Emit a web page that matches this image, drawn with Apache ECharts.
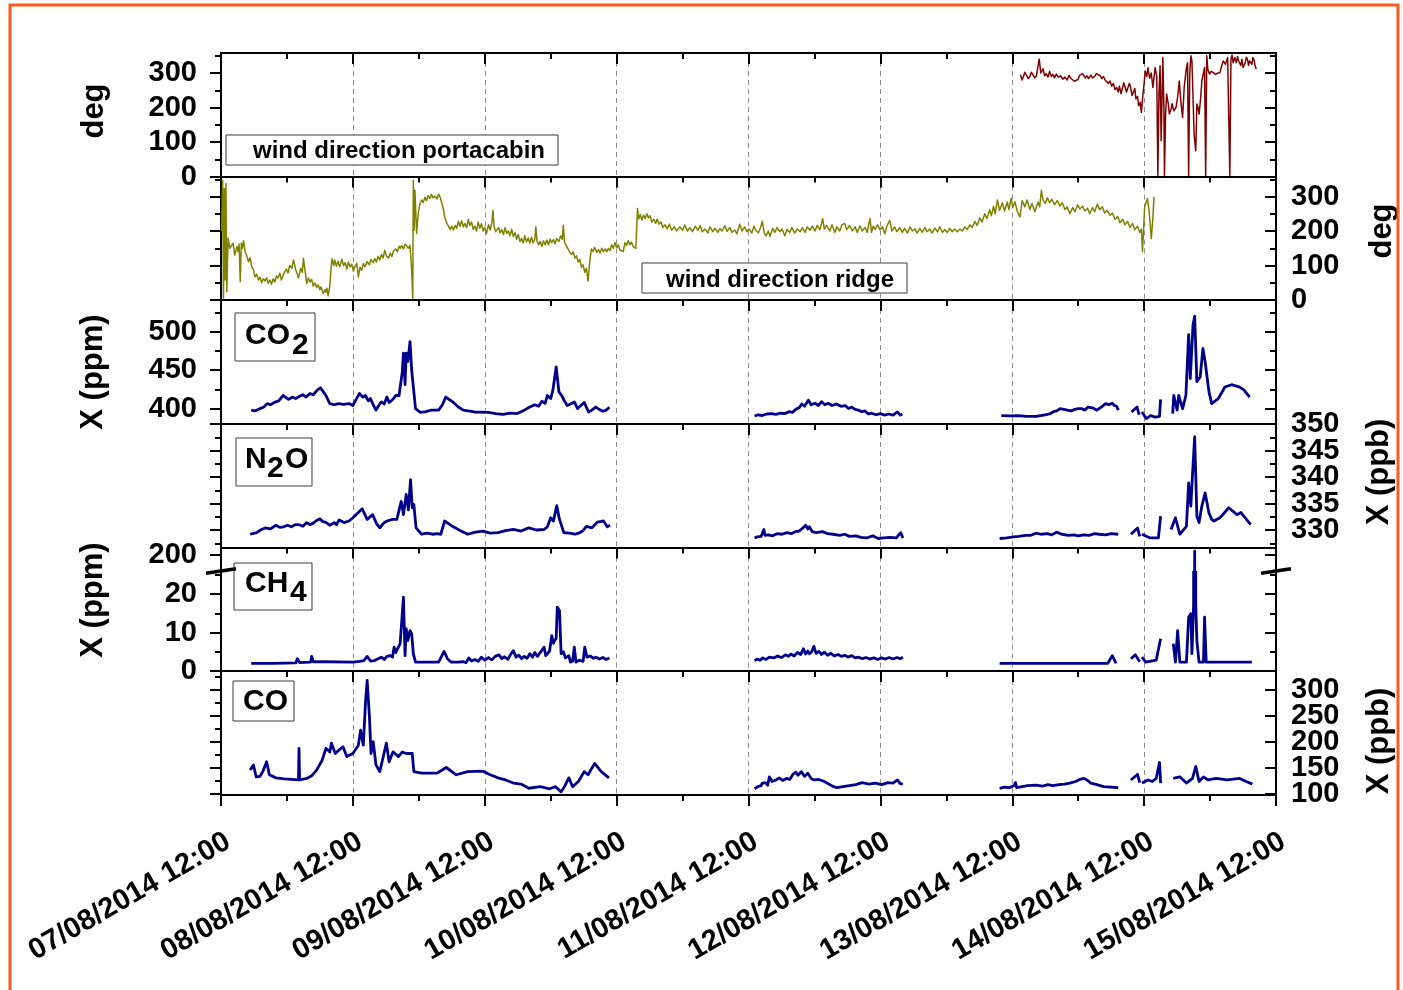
<!DOCTYPE html>
<html>
<head>
<meta charset="utf-8">
<title>Wind direction and trace gases, 07-15/08/2014</title>
<script src="https://cdn.jsdelivr.net/npm/echarts@6/dist/echarts.min.js"></script>
<style>
  html, body { margin: 0; padding: 0; background: #ffffff; }
  #chart { width: 1403px; height: 990px; }
</style>
</head>
<body>
<div id="chart"></div>
<script>
// ---------------------------------------------------------------------------
// Data. Time is given in hours after 07/08/2014 12:00; null marks a data gap.
// ---------------------------------------------------------------------------
const dayTickLabels = ['07/08/2014 12:00', '08/08/2014 12:00', '09/08/2014 12:00',
  '10/08/2014 12:00', '11/08/2014 12:00', '12/08/2014 12:00', '13/08/2014 12:00',
  '14/08/2014 12:00', '15/08/2014 12:00'];

// wind direction at the portacabin (deg)
const windPortacabin = [
  [145.5, 295], [145.8, 280], [146.0, 285], [146.3, 302], [146.6, 300], [146.9, 284],
  [147.2, 290], [147.5, 302], [147.8, 298], [148.1, 286], [148.4, 292], [148.9, 340],
  [149.2, 300], [149.6, 312], [149.9, 292], [150.2, 298], [150.5, 288], [150.8, 305],
  [151.1, 290], [151.4, 296], [151.7, 286], [152.0, 297], [152.4, 288], [152.8, 292],
  [153.2, 282], [153.6, 288], [154.0, 280], [154.3, 293], [154.7, 284], [155.0, 285],
  [155.3, 276], [155.6, 280], [156.0, 282], [156.3, 294], [156.5, 290], [156.8, 298],
  [157.0, 295], [157.3, 286], [157.6, 292], [157.9, 284], [158.3, 294], [158.6, 286],
  [159.0, 290], [159.3, 298], [159.6, 294], [160.0, 292], [160.3, 284], [160.6, 290],
  [160.9, 280], [161.2, 282], [161.5, 270], [161.8, 277], [162.1, 262], [162.4, 270],
  [162.7, 252], [163.0, 258], [163.3, 245], [163.5, 262], [163.8, 240], [164.0, 253],
  [164.3, 272], [164.5, 268], [164.8, 245], [165.0, 250], [165.3, 270], [165.5, 262],
  [165.8, 235], [166.0, 240], [166.3, 255], [166.5, 225], [166.8, 232], [167.0, 205],
  [167.3, 215], [167.5, 186], [167.8, 240], [168.0, 269], [168.2, 306], [168.5, 290],
  [168.7, 315], [169.0, 285], [169.3, 300], [169.6, 258], [170.0, 316], [170.3, 290],
  [170.5, 3], [170.7, 240], [170.9, 321], [171.1, 104], [171.4, 345], [171.6, 200],
  [171.7, 3], [171.9, 180], [172.1, 239], [172.4, 210], [172.6, 181], [172.9, 195],
  [173.1, 211], [173.4, 190], [173.8, 200], [174.1, 230], [174.4, 277], [174.7, 215],
  [175.0, 171], [175.3, 260], [175.7, 316], [175.9, 330], [176.1, 3], [176.3, 300],
  [176.5, 350], [176.7, 335], [176.9, 229], [177.1, 120], [177.4, 75], [177.6, 210],
  [177.8, 200], [178.0, 181], [178.3, 230], [178.5, 277], [178.8, 300], [179.0, 316],
  [179.2, 3], [179.4, 350], [179.6, 310], [179.9, 297], [180.2, 305], [180.6, 301],
  [181.0, 296], [181.4, 300], [181.8, 301], [182.1, 320], [182.4, 335], [182.8, 325],
  [183.2, 345], [183.5, 341], [183.6, 3], [183.8, 340], [184.0, 352], [184.2, 330],
  [184.5, 345], [184.8, 330], [185.0, 348], [185.2, 335], [185.6, 322], [185.8, 340],
  [186.0, 316], [186.4, 330], [186.6, 346], [186.8, 340], [187.0, 322], [187.2, 335],
  [187.6, 325], [187.8, 345], [188.0, 338], [188.2, 320], [188.4, 311]
];

// wind direction on the ridge (deg)
const windRidge = [
  [0.1, 200], [0.3, 347], [0.45, 5], [0.6, 323], [0.75, 58], [0.9, 338], [1.05, 24],
  [1.3, 180], [1.6, 150], [1.9, 145], [2.2, 165], [2.5, 130], [2.9, 155], [3.1, 140],
  [3.3, 162], [3.5, 53], [3.7, 165], [3.9, 150], [4.1, 172], [4.4, 140], [4.7, 128],
  [5.0, 111], [5.3, 122], [5.6, 96], [5.9, 88], [6.2, 67], [6.5, 75], [6.8, 58], [7.1, 66],
  [7.4, 50], [7.7, 62], [8.0, 55], [8.3, 64], [8.6, 48], [8.9, 58], [9.2, 46], [9.5, 62],
  [9.8, 52], [10.1, 70], [10.4, 64], [10.7, 78], [11.0, 58], [11.3, 72], [11.6, 77],
  [11.9, 90], [12.2, 78], [12.5, 100], [12.9, 92], [13.2, 116], [13.6, 88], [13.9, 74],
  [14.1, 64], [14.5, 92], [14.8, 80], [15.0, 121], [15.3, 85], [15.6, 48], [15.9, 64],
  [16.2, 52], [16.5, 60], [16.8, 40], [17.1, 50], [17.4, 36], [17.7, 44], [18.0, 30],
  [18.2, 38], [18.6, 19], [18.9, 30], [19.1, 22], [19.3, 34], [19.5, 12], [19.8, 40],
  [20.0, 87], [20.2, 120], [20.5, 100], [20.7, 116], [21.0, 98], [21.3, 112], [21.6, 96],
  [22.0, 118], [22.3, 100], [22.6, 108], [22.9, 90], [23.2, 110], [23.5, 96], [23.8, 104],
  [24.1, 84], [24.4, 98], [24.7, 106], [25.0, 67], [25.3, 95], [25.6, 86], [25.9, 106],
  [26.2, 96], [26.6, 112], [27.0, 102], [27.3, 118], [27.7, 108], [28.0, 120], [28.3, 110],
  [28.6, 126], [28.9, 116], [29.2, 132], [29.5, 122], [29.8, 144], [30.1, 128], [30.5, 122],
  [30.8, 136], [31.1, 126], [31.4, 142], [31.8, 148], [32.1, 140], [32.4, 156], [32.6, 150],
  [32.9, 158], [33.2, 148], [33.5, 162], [33.8, 166], [34.1, 150], [34.4, 158], [34.7, 87],
  [34.9, 5], [35.0, 347], [35.15, 202], [35.3, 318], [35.6, 193], [35.9, 251], [36.2, 279],
  [36.5, 290], [36.8, 282], [37.1, 298], [37.4, 288], [37.7, 303], [38.0, 294], [38.3, 306],
  [38.6, 296], [39.0, 301], [39.3, 293], [39.6, 307], [39.9, 297], [40.2, 302], [40.5, 262],
  [40.7, 240], [40.9, 232], [41.1, 222], [41.4, 214], [41.7, 204], [42.0, 214], [42.3, 203],
  [42.6, 216], [42.9, 208], [43.2, 228], [43.5, 214], [43.8, 230], [44.1, 212], [44.4, 222],
  [44.7, 210], [45.0, 234], [45.3, 216], [45.6, 226], [45.9, 205], [46.2, 214], [46.5, 200],
  [46.8, 226], [47.1, 208], [47.4, 221], [47.7, 200], [48.0, 210], [48.3, 192], [48.7, 218],
  [49.0, 203], [49.3, 225], [49.5, 260], [49.7, 212], [50.0, 198], [50.5, 210], [50.8, 195],
  [51.1, 204], [51.4, 190], [51.7, 210], [52.0, 193], [52.3, 200], [52.6, 186], [52.9, 205],
  [53.2, 184], [53.5, 195], [53.8, 176], [54.1, 190], [54.4, 170], [54.7, 178], [55.0, 166],
  [55.3, 186], [55.6, 168], [55.9, 180], [56.2, 165], [56.5, 182], [56.8, 166], [57.1, 176],
  [57.3, 212], [57.5, 172], [57.8, 160], [58.1, 170], [58.4, 155], [58.7, 172], [59.0, 160],
  [59.3, 174], [59.6, 160], [59.9, 176], [60.2, 166], [60.5, 175], [60.8, 163], [61.1, 178],
  [61.5, 170], [61.8, 186], [62.1, 176], [62.3, 217], [62.5, 168], [62.8, 158], [63.1, 150],
  [63.4, 140], [63.8, 132], [64.1, 140], [64.4, 122], [64.7, 128], [65.0, 110], [65.3, 118],
  [65.6, 95], [65.9, 102], [66.2, 80], [66.5, 92], [66.8, 55], [67.1, 110], [67.4, 148],
  [67.7, 140], [68.0, 152], [68.4, 138], [68.7, 146], [69.0, 136], [69.3, 150], [69.6, 140],
  [69.9, 148], [70.2, 140], [70.5, 150], [70.8, 143], [71.1, 160], [71.4, 150], [71.7, 166],
  [72.0, 152], [72.3, 160], [72.6, 145], [72.9, 150], [73.2, 140], [73.5, 166], [73.8, 158],
  [74.1, 172], [74.4, 160], [74.7, 168], [75.0, 155], [75.3, 160], [75.5, 150], [75.8, 265],
  [76.0, 235], [76.3, 248], [76.6, 232], [76.9, 246], [77.2, 236], [77.5, 250], [77.8, 238],
  [78.1, 244], [78.4, 226], [78.8, 234], [79.1, 222], [79.4, 235], [79.7, 220], [80.1, 226],
  [80.4, 210], [80.8, 218], [81.2, 206], [81.6, 220], [82.0, 202], [82.5, 212], [82.9, 200],
  [83.5, 212], [84.0, 202], [84.4, 217], [84.9, 200], [85.3, 210], [85.8, 198], [86.3, 214],
  [86.8, 202], [87.2, 216], [87.6, 198], [88.1, 206], [88.6, 194], [89.0, 212], [89.5, 198],
  [89.9, 208], [90.4, 196], [90.8, 207], [91.2, 200], [91.7, 215], [92.1, 199], [92.6, 210],
  [93.0, 196], [93.5, 203], [93.9, 192], [94.4, 220], [94.8, 200], [95.3, 212], [95.7, 198],
  [96.1, 206], [96.6, 194], [97.0, 214], [97.4, 200], [97.8, 195], [98.2, 210], [98.5, 228],
  [98.9, 194], [99.2, 186], [99.6, 200], [99.9, 184], [100.4, 208], [100.8, 196], [101.2, 210],
  [101.7, 198], [102.1, 206], [102.6, 186], [103.0, 204], [103.5, 196], [103.9, 210],
  [104.4, 194], [104.9, 206], [105.4, 198], [105.8, 210], [106.3, 196], [106.7, 212],
  [107.2, 202], [107.6, 214], [108.1, 200], [108.5, 216], [109.0, 204], [109.5, 236],
  [109.8, 205], [110.2, 216], [110.8, 200], [111.2, 218], [111.7, 196], [112.1, 212],
  [112.6, 200], [113.0, 218], [113.5, 222], [113.9, 204], [114.4, 216], [114.9, 200],
  [115.4, 212], [115.8, 196], [116.3, 215], [116.7, 200], [117.2, 210], [117.6, 196],
  [118.1, 236], [118.4, 196], [118.7, 214], [119.0, 205], [119.5, 218], [119.9, 204],
  [120.4, 212], [120.8, 192], [121.2, 215], [121.7, 231], [122.1, 200], [122.6, 212],
  [123.0, 198], [123.5, 210], [124.0, 196], [124.4, 208], [124.9, 194], [125.4, 212],
  [125.8, 200], [126.3, 206], [126.7, 194], [127.2, 208], [127.6, 196], [128.1, 210],
  [128.5, 198], [129.0, 206], [129.4, 194], [129.9, 208], [130.4, 198], [130.8, 212],
  [131.3, 196], [131.7, 204], [132.2, 196], [132.6, 208], [133.1, 198], [133.5, 206],
  [134.0, 198], [134.5, 206], [134.9, 200], [135.4, 212], [135.8, 204], [136.3, 218],
  [136.7, 210], [137.2, 228], [137.6, 216], [138.1, 238], [138.5, 226], [139.0, 250],
  [139.4, 236], [139.9, 262], [140.2, 244], [140.6, 272], [140.9, 250], [141.3, 290],
  [141.7, 260], [142.2, 282], [142.6, 258], [143.1, 284], [143.4, 262], [143.8, 295],
  [144.1, 268], [144.5, 285], [144.9, 258], [145.4, 241], [145.8, 288], [146.3, 270],
  [146.7, 290], [147.2, 262], [147.6, 280], [148.1, 256], [148.7, 284], [149.0, 270],
  [149.3, 318], [149.6, 290], [150.0, 280], [150.4, 296], [150.8, 282], [151.2, 292],
  [151.7, 276], [152.2, 288], [152.7, 272], [153.1, 282], [153.6, 262], [154.0, 270],
  [154.5, 250], [155.0, 268], [155.4, 256], [155.9, 276], [156.3, 264], [156.8, 272],
  [157.2, 258], [157.7, 266], [158.1, 250], [158.6, 268], [159.0, 256], [159.5, 278],
  [159.9, 262], [160.4, 270], [160.8, 252], [161.3, 260], [161.8, 245], [162.2, 252],
  [162.7, 234], [163.2, 242], [163.6, 224], [164.1, 234], [164.5, 218], [165.0, 228],
  [165.4, 210], [165.9, 222], [166.3, 204], [166.8, 214], [167.2, 196], [167.5, 205],
  [167.7, 140], [168.1, 270], [168.6, 294], [168.9, 260], [169.3, 178], [169.6, 240],
  [169.8, 299]
];

// CO2 mole fraction (ppm)
const co2 = [
  [5.5, 398], [6.2, 397], [7.1, 400], [7.8, 402], [8.4, 406.5], [9.0, 405], [9.7, 408],
  [10.5, 410], [11.3, 417], [12.3, 412], [13.0, 415], [13.6, 413], [14.3, 416], [14.9, 418],
  [15.5, 415], [16.2, 419.6], [16.8, 418], [17.5, 424], [18.1, 427], [18.6, 422], [19.1, 417],
  [19.8, 406.5], [20.6, 405], [21.4, 406.5], [22.3, 405.5], [23.3, 406.5], [24.0, 404],
  [24.6, 412], [25.2, 419.6], [25.8, 415], [26.3, 417], [26.8, 410], [27.2, 413], [27.7, 405],
  [28.2, 398], [28.7, 404], [29.2, 408.6], [29.7, 406], [30.2, 415], [30.6, 408], [31.0, 410],
  [31.5, 414], [31.8, 417], [32.4, 417], [33.0, 448], [33.2, 472], [33.5, 431], [33.7, 472],
  [34.0, 461], [34.4, 487], [34.7, 450], [35.0, 448], [35.4, 400], [36.3, 395], [37.3, 396],
  [38.3, 398], [39.6, 398], [40.3, 405], [40.9, 415], [41.5, 412], [42.2, 408.6], [43.2, 402],
  [44.1, 398], [46.1, 395.6], [48.7, 395], [50.0, 393.5], [51.3, 392.6], [52.6, 394],
  [53.9, 393.5], [55.2, 398], [56.2, 402], [57.1, 405], [57.8, 403], [58.4, 409.5],
  [59.0, 407], [59.4, 417], [60.0, 413], [60.4, 424], [61.0, 454], [61.5, 421.7], [62.0, 417],
  [62.5, 410], [63.0, 404], [63.6, 406], [64.3, 408.6], [64.9, 400], [65.5, 404], [66.1, 408],
  [66.9, 395.6], [67.5, 398], [68.2, 402], [68.8, 399], [69.5, 396.5], [70.1, 398],
  [70.7, 401.7],
  [84, null],
  [97.1, 390.4], [97.8, 392], [98.5, 391], [99.3, 393], [100.2, 393.5], [101.0, 392.5],
  [101.8, 394], [102.6, 393.5], [103.4, 396], [104.0, 395], [104.6, 399], [105.2, 401],
  [105.7, 406], [106.2, 403], [106.9, 411], [107.4, 405], [108.1, 407], [108.7, 404],
  [109.3, 409], [109.9, 405], [110.5, 407], [111.2, 404], [112.0, 406], [112.8, 403],
  [113.6, 404], [114.2, 400], [114.8, 402], [115.4, 399], [116.0, 398], [116.6, 396],
  [117.2, 397], [117.8, 393], [118.4, 394], [119.2, 392], [120.0, 393.5], [120.8, 391.5],
  [121.5, 393], [122.3, 391.5], [123.1, 395.6], [123.6, 391.5], [124.0, 393],
  [133, null],
  [142.0, 391], [143.5, 390.5], [145.0, 391], [146.6, 390], [148.3, 390], [149.2, 391],
  [150.0, 392], [150.8, 393], [151.5, 396], [152.1, 397], [152.7, 400], [153.4, 399],
  [154.0, 398], [154.7, 397], [155.4, 399], [156.0, 400], [156.6, 400], [157.2, 398],
  [157.8, 402], [158.6, 401], [159.4, 398], [160.2, 402], [161.0, 406.5], [161.6, 405],
  [162.2, 407], [162.6, 404], [163.0, 403], [163.3, 398],
  [164.5, null],
  [165.7, 395.6], [166.7, 402], [167.1, 392],
  [167.35, null],
  [167.6, 395.6], [168.4, 387], [169.2, 391], [170.0, 389], [170.8, 390], [171.0, 412],
  [172.1, null],
  [173.2, 393.5], [173.4, 417], [174.0, 398], [174.3, 417], [175.0, 400], [175.6, 417],
  [176.1, 496], [176.4, 439], [176.9, 509], [177.2, 520], [177.6, 435], [178.2, 441],
  [178.7, 478], [179.1, 461], [179.8, 421.7], [180.3, 406.5], [181.5, 413], [182.7, 428],
  [183.9, 431], [185.4, 428], [186.2, 424], [187.2, 415]
];

// N2O mole fraction (ppb)
const n2o = [
  [5.3, 329.2], [6.5, 329.5], [7.2, 330.0], [8.0, 330.4], [9.0, 330.2], [10.0, 330.9],
  [10.7, 330.5], [11.4, 330.6], [12.1, 330.9], [12.8, 330.6], [13.5, 331.0], [14.2, 331.0],
  [14.9, 330.7], [15.6, 331.4], [16.2, 331.0], [16.8, 331.3], [17.4, 331.8], [18.0, 332.1],
  [18.5, 331.6], [19.0, 331.5], [19.8, 330.9], [20.6, 331.4], [21.0, 331.0], [21.5, 331.9],
  [22.4, 331.4], [23.3, 331.7], [24.3, 332.6], [25.0, 333.3], [25.7, 334.0], [26.6, 332.0],
  [27.6, 332.9], [28.3, 331.2], [28.9, 330.4], [29.6, 331.3], [30.2, 331.7], [31.2, 332.0],
  [32.0, 332.0], [32.8, 335.4], [33.2, 332.9], [33.7, 336.7], [34.1, 333.8], [34.5, 339.5],
  [34.8, 334.2], [35.1, 334.8], [35.5, 330.4], [36.5, 329.2], [37.5, 329.4], [38.6, 329.2],
  [39.3, 329.3], [40.0, 329.2], [40.7, 331.7], [41.4, 331.2], [42.1, 330.7], [43.5, 329.9],
  [44.9, 329.2], [46.3, 329.6], [47.7, 329.8], [49.0, 329.4], [50.4, 329.5], [51.8, 329.9],
  [53.2, 330.1], [54.6, 329.8], [56.0, 330.4], [57.4, 330.0], [58.8, 330.1], [59.4, 330.6],
  [60.0, 332.3], [60.5, 331.7], [61.1, 334.6], [61.6, 332.0], [62.4, 329.5], [63.4, 329.4],
  [64.4, 329.2], [65.1, 329.4], [65.8, 329.8], [66.5, 330.7], [67.5, 330.4], [68.5, 331.5],
  [69.6, 331.7], [70.3, 330.6], [70.8, 330.9],
  [84, null],
  [97.1, 328.5], [97.6, 328.7], [98.3, 328.8], [98.8, 330.1], [99.0, 329.0], [99.6, 329.1],
  [100.4, 328.9], [101.2, 329.3], [102.1, 329.2], [103.0, 329.5], [103.8, 329.3],
  [104.6, 329.7], [105.2, 329.8], [105.8, 330.3], [106.4, 330.9], [106.8, 330.2],
  [107.1, 330.6], [107.6, 329.7], [108.3, 329.5], [109.5, 329.7], [110.4, 329.3],
  [111.4, 329.2], [112.6, 329.0], [113.5, 329.2], [114.4, 328.8], [115.5, 328.9],
  [116.5, 328.6], [117.5, 328.5], [118.6, 328.9], [119.6, 328.4], [120.6, 328.5],
  [121.8, 328.6], [122.9, 328.5], [123.7, 329.5], [124.1, 328.5],
  [133, null],
  [141.7, 328.4], [143.0, 328.5], [144.2, 328.7], [145.2, 328.8], [146.4, 329.0],
  [147.4, 329.0], [148.3, 329.4], [149.2, 329.2], [150.4, 329.3], [151.2, 329.1],
  [152.1, 329.6], [153.0, 329.2], [154.2, 329.0], [155.2, 329.1], [156.0, 328.9],
  [157.0, 329.1], [158.0, 329.0], [159.0, 329.3], [159.8, 329.2], [161.0, 329.1],
  [162.0, 329.3], [163.3, 329.2],
  [164.5, null],
  [165.6, 329.2], [166.8, 330.4], [167.2, 328.8],
  [167.4, null],
  [167.6, 329.2], [169.1, 328.5], [170.6, 328.5], [171.0, 332.6],
  [172.0, null],
  [172.9, 330.1], [173.7, 332.3], [174.5, 329.2], [175.7, 330.7], [176.1, 338.9],
  [176.5, 334.5], [176.8, 340.4], [177.2, 347.6], [177.6, 332.6], [178.0, 331.4],
  [178.5, 334.5], [179.1, 337.0], [179.8, 333.2], [180.3, 332.0], [180.7, 331.7],
  [181.8, 332.3], [183.4, 334.2], [184.9, 332.9], [185.6, 333.3], [186.4, 332.3],
  [187.4, 331.0]
];

// CH4 mole fraction (ppm)
const ch4 = [
  [5.5, 2.0], [9.7, 2.0], [13.6, 2.1], [13.9, 3.2], [14.3, 2.2], [16.3, 2.3], [16.5, 3.8],
  [16.8, 2.4], [18.8, 2.4], [24.0, 2.3], [25.2, 2.5], [26.0, 2.7], [26.6, 3.8], [27.2, 2.6],
  [27.9, 2.7], [28.5, 3.1], [29.2, 3.6], [29.7, 3.0], [30.2, 3.8], [30.8, 4.0], [31.2, 3.6],
  [31.5, 6.2], [31.8, 4.8], [32.1, 5.3], [32.6, 7.1], [32.9, 13.1], [33.2, 19.2], [33.5, 4.0],
  [33.7, 11.0], [34.0, 7.9], [34.4, 10.5], [34.7, 9.7], [35.0, 4.5], [35.4, 2.3], [39.6, 2.3],
  [40.6, 5.1], [41.2, 3.2], [41.9, 2.3], [43.0, 2.3], [44.1, 2.4], [44.6, 2.2], [45.1, 3.4],
  [45.6, 2.6], [46.2, 3.0], [46.8, 2.5], [47.4, 3.6], [48.0, 2.8], [48.7, 3.5], [49.3, 2.9],
  [49.9, 3.8], [50.6, 4.2], [51.1, 3.2], [51.6, 3.7], [52.2, 3.0], [52.7, 4.3], [53.2, 5.3],
  [53.7, 3.6], [54.2, 4.1], [54.7, 3.2], [55.2, 3.8], [55.7, 3.3], [56.2, 4.5], [56.7, 3.6],
  [57.1, 4.8], [57.6, 3.8], [58.2, 5.0], [58.8, 6.2], [59.1, 4.0], [59.4, 4.5], [59.8, 5.2],
  [60.2, 9.2], [60.5, 7.2], [60.7, 7.9], [61.0, 8.5], [61.2, 16.6], [61.6, 15.7], [61.9, 4.5],
  [62.3, 5.0], [62.7, 3.4], [63.0, 3.2], [63.3, 4.0], [63.6, 2.3], [64.0, 2.6], [64.3, 6.2],
  [64.6, 2.3], [65.2, 2.8], [65.9, 2.5], [66.2, 6.2], [66.6, 3.6], [67.2, 3.9], [67.8, 3.3],
  [68.2, 3.6], [68.9, 3.1], [69.5, 3.5], [70.1, 3.0], [70.7, 3.4],
  [84, null],
  [97.1, 2.7], [97.6, 3.1], [98.1, 2.8], [98.6, 3.4], [99.2, 3.0], [99.8, 3.6], [100.6, 3.4],
  [101.3, 3.9], [102.0, 3.5], [102.7, 4.2], [103.3, 3.8], [103.7, 4.4], [104.3, 3.9],
  [104.9, 4.8], [105.5, 4.3], [106.0, 5.8], [106.4, 4.4], [106.8, 5.2], [107.1, 4.5],
  [107.5, 5.0], [107.9, 6.4], [108.3, 4.6], [108.8, 5.1], [109.3, 4.3], [109.8, 4.9],
  [110.4, 4.1], [111.0, 4.6], [111.6, 3.9], [112.3, 4.3], [112.9, 3.8], [113.5, 4.1],
  [114.1, 3.6], [114.8, 4.0], [115.4, 3.4], [116.0, 3.6], [116.7, 3.2], [117.4, 3.5],
  [118.1, 3.1], [118.8, 3.4], [119.5, 3.0], [120.2, 3.4], [120.9, 3.1], [121.6, 3.5],
  [122.3, 3.1], [123.0, 3.5], [123.6, 3.2], [124.1, 3.6],
  [133, null],
  [141.7, 2.0], [161.4, 2.0], [162.2, 4.0], [162.9, 2.0],
  [164.5, null],
  [165.6, 3.2], [166.4, 4.2], [167.2, 2.4],
  [167.4, null],
  [167.6, 3.6], [168.3, 2.3], [170.2, 2.8], [171.0, 8.4],
  [172.1, null],
  [173.3, 7.1], [173.7, 2.3], [174.1, 10.5], [174.5, 2.3], [175.7, 2.3], [176.1, 14.0],
  [176.5, 14.9], [176.7, 4.5], [177.0, 17.0], [177.2, 201], [177.4, 17.0], [177.6, 7.9],
  [178.0, 2.3], [178.8, 2.3], [179.0, 14.0], [179.3, 2.3], [187.6, 2.3]
];

// CO mole fraction (ppb)
const co = [
  [5.3, 146], [5.9, 156], [6.4, 133], [7.1, 134], [7.6, 143], [8.3, 162], [8.8, 137],
  [10.0, 131], [11.5, 129], [12.8, 128], [14.1, 127], [14.2, 188], [14.3, 127], [15.6, 130],
  [16.5, 135], [17.4, 146], [18.4, 165], [19.1, 188], [19.8, 181], [20.1, 198], [20.8, 178],
  [21.5, 185], [22.2, 191], [22.9, 172], [24.0, 178], [25.0, 194], [25.4, 223], [25.9, 194],
  [26.3, 277], [26.6, 319], [27.0, 252], [27.3, 178], [27.7, 201], [28.2, 156], [28.9, 143],
  [29.6, 175], [30.1, 198], [30.6, 162], [31.3, 181], [32.3, 172], [33.0, 181], [33.7, 178],
  [34.8, 178], [35.1, 143], [36.5, 140], [39.3, 140], [41.0, 151], [42.8, 137], [44.9, 143],
  [47.7, 144], [49.0, 137], [50.4, 131], [51.8, 127], [53.2, 121], [54.6, 119], [56.0, 111],
  [58.1, 114], [59.8, 110], [60.9, 114], [61.9, 104], [62.6, 116], [63.3, 131], [64.0, 114],
  [65.1, 125], [66.1, 143], [66.8, 137], [68.0, 159], [69.2, 143], [70.6, 131],
  [84, null],
  [97.1, 110], [97.7, 114], [98.3, 116], [98.5, 121], [99.1, 122], [99.5, 117], [99.8, 133],
  [100.3, 124], [101.0, 127], [101.6, 131], [102.2, 126], [102.9, 130], [103.5, 128],
  [104.1, 138], [104.6, 142], [105.0, 136], [105.6, 143], [106.2, 134], [106.8, 140],
  [107.4, 130], [107.9, 127], [108.8, 128], [109.8, 124], [110.8, 118], [111.5, 114],
  [112.1, 112], [113.2, 114], [114.4, 116], [115.5, 118], [116.7, 122], [117.9, 119],
  [119.1, 121], [120.2, 118], [121.4, 122], [122.3, 121], [123.1, 127], [123.6, 120],
  [124.1, 119],
  [133, null],
  [141.7, 111], [142.6, 113], [143.5, 112], [144.4, 117], [144.6, 122], [144.8, 112],
  [145.8, 114], [146.8, 116], [148.3, 117], [149.5, 115], [150.5, 118], [151.4, 116],
  [152.5, 118], [153.5, 119], [154.5, 121], [155.5, 124], [156.3, 128], [157.1, 130],
  [157.7, 126], [158.3, 121], [159.4, 118], [160.6, 114], [162.0, 113], [163.3, 112],
  [164.5, null],
  [165.6, 127], [166.8, 138], [167.2, 122],
  [167.4, null],
  [167.6, 121], [168.7, 127], [169.5, 124], [170.2, 130], [170.8, 161], [171.0, 121],
  [172.1, null],
  [173.3, 130], [174.5, 133], [175.7, 121], [176.8, 130], [177.4, 153], [178.0, 124],
  [178.8, 133], [179.6, 127], [181.1, 130], [183.1, 127], [185.4, 130], [186.6, 124],
  [187.7, 119]
];

// axis tick values
const windMajorTicks = [0, 100, 200, 300];
const windMinorTicks = [50, 150, 250, 350];
const co2MajorTicks = [400, 450, 500];
const co2MinorTicks = [425, 475, 525];
const n2oMajorTicks = [330, 335, 340, 345, 350];
const n2oMinorTicks = [327.5, 332.5, 337.5, 342.5, 347.5];
const ch4UpperTicks = [200];
const ch4MajorTicks = [0, 10, 20];
const ch4MinorTicks = [5, 15, 25];
const coMajorTicks = [100, 150, 200, 250, 300];
const coMinorTicks = [125, 175, 225, 275, 325];

// ---------------------------------------------------------------------------
// Layout
// ---------------------------------------------------------------------------
const FONT = "'Liberation Sans', Arial, Helvetica, sans-serif";
const PLOT_LEFT = 221;
const PLOT_WIDTH = 1055;
const HOURS_MAX = 192;
const BLACK = '#000000';
const NAVY = '#00008b';

// One entry per grid; the CH4 panel is split in two grids to form the broken axis.
const panels = [
  { top: 53,    height: 123.5, min: 0,     max: 358,   major: windMajorTicks, minor: windMinorTicks, labelSide: 'left' },
  { top: 176.5, height: 123.5, min: 0,     max: 358,   major: windMajorTicks, minor: windMinorTicks, labelSide: 'right' },
  { top: 300,   height: 124,   min: 380,   max: 541,   major: co2MajorTicks,  minor: co2MinorTicks,  labelSide: 'left' },
  { top: 424,   height: 123.5, min: 326.7, max: 350,   major: n2oMajorTicks,  minor: n2oMinorTicks,  labelSide: 'right' },
  { top: 547.5, height: 22,    min: 196.2, max: 201.95, major: ch4UpperTicks, minor: [],             labelSide: 'left' },
  { top: 572.5, height: 98.5,  min: 0,     max: 25.6,  major: ch4MajorTicks,  minor: ch4MinorTicks,  labelSide: 'left', noTopEdge: true },
  { top: 671,   height: 124,   min: 98,    max: 337,   major: coMajorTicks,   minor: coMinorTicks,   labelSide: 'right' }
];

const tickLabelStyle = { color: BLACK, fontFamily: FONT, fontWeight: 'bold', fontSize: 29 };

const grids = panels.map(p => ({
  left: PLOT_LEFT, width: PLOT_WIDTH, top: p.top, height: p.height,
  containLabel: false, outerBoundsMode: 'none'
}));

// top axis of every grid carries the panel border and the inward ticks
const xAxes = panels.map((p, g) => ({
  type: 'value', gridIndex: g, min: 0, max: HOURS_MAX, interval: 24, position: 'top',
  axisLine: { show: !p.noTopEdge, onZero: false, lineStyle: { color: BLACK, width: 2 } },
  axisTick: { show: !p.noTopEdge, inside: true, length: 11, lineStyle: { color: BLACK, width: 2 } },
  minorTick: { show: !p.noTopEdge, splitNumber: 2, length: 6, lineStyle: { color: BLACK, width: 2 } },
  axisLabel: { show: false },
  splitLine: { show: true, lineStyle: { color: '#8c8c8c', width: 1, type: [5, 4] } },
  minorSplitLine: { show: false }
}));
// bottom axis with the date labels
xAxes.push({
  type: 'value', gridIndex: panels.length - 1, min: 0, max: HOURS_MAX, interval: 24, position: 'bottom',
  axisLine: { show: true, onZero: false, lineStyle: { color: BLACK, width: 2 } },
  axisTick: { show: true, inside: false, length: 11, lineStyle: { color: BLACK, width: 2 } },
  minorTick: { show: true, splitNumber: 2, length: 6, lineStyle: { color: BLACK, width: 2 } },
  splitLine: { show: false },
  axisLabel: Object.assign({}, tickLabelStyle, {
    show: true, rotate: 30, margin: 32, align: 'right', verticalAlign: 'top',
    showMinLabel: true, showMaxLabel: true, interval: 0,
    formatter: v => dayTickLabels[Math.round(v / 24)] || ''
  })
});

// Tick labels alternate between the two axes of a side, so that closely spaced
// labels are never thinned out by the automatic label interval.
const evenItems = arr => arr.filter((_, i) => i % 2 === 0);
const oddItems = arr => arr.filter((_, i) => i % 2 === 1);

// four y axes per grid: left major, left minor, right major, right minor
const yAxes = [];
panels.forEach((p, g) => {
  ['left', 'right'].forEach(side => {
    const inside = side === 'right';
    const labelled = p.labelSide === side;
    const labelBase = Object.assign({
      margin: side === 'left' ? 24 : 15, showMinLabel: true, showMaxLabel: true,
      hideOverlap: false, interval: 0
    }, tickLabelStyle);
    yAxes.push({
      type: 'value', gridIndex: g, position: side, min: p.min, max: p.max,
      splitLine: { show: false },
      axisLine: { show: true, onZero: false, lineStyle: { color: BLACK, width: 2 } },
      axisTick: { show: true, inside: inside, length: 11, customValues: p.major,
                  lineStyle: { color: BLACK, width: 2 } },
      axisLabel: Object.assign({ show: labelled, customValues: evenItems(p.major) }, labelBase)
    });
    const odd = oddItems(p.major);
    yAxes.push({
      type: 'value', gridIndex: g, position: side, min: p.min, max: p.max,
      splitLine: { show: false },
      axisLine: { show: false },
      axisTick: { show: p.minor.length > 0, inside: inside, length: 6, customValues: p.minor,
                  lineStyle: { color: BLACK, width: 2 } },
      axisLabel: Object.assign({ show: labelled && odd.length > 0, customValues: odd }, labelBase)
    });
  });
});

function lineSeries(name, data, grid, color, width) {
  return {
    name: name, type: 'line', data: data,
    xAxisIndex: grid, yAxisIndex: grid * 4,
    showSymbol: false, symbol: 'none', connectNulls: false, clip: true, silent: true,
    lineStyle: { color: color, width: width, join: 'round' },
    itemStyle: { color: color }, emphasis: { disabled: true }, z: 3
  };
}

const series = [
  lineSeries('wind direction portacabin', windPortacabin, 0, '#800000', 1.5),
  lineSeries('wind direction ridge', windRidge, 1, '#808000', 1.5),
  lineSeries('CO2', co2, 2, NAVY, 2.8),
  lineSeries('N2O', n2o, 3, NAVY, 2.8),
  lineSeries('CH4 (upper)', ch4, 4, NAVY, 2.8),
  lineSeries('CH4', ch4, 5, NAVY, 2.8),
  lineSeries('CO', co, 6, NAVY, 2.8)
];

// ---------------------------------------------------------------------------
// Annotations: frame, panel labels, axis titles, axis-break marks
// ---------------------------------------------------------------------------
function txt(text, x, y, size, opts) {
  return Object.assign({
    type: 'text', x: x, y: y, silent: true, z: 20,
    style: Object.assign({ text: text, font: 'bold ' + size + 'px ' + FONT, fill: BLACK,
                           align: 'left', verticalAlign: 'middle' }, (opts && opts.style) || {})
  }, (opts && opts.el) || {});
}
function box(x, y, w, h) {
  return { type: 'rect', silent: true, z: 19, shape: { x: x, y: y, width: w, height: h },
           style: { fill: '#ffffff', stroke: '#3a3a3a', lineWidth: 1 } };
}
function vTitle(text, x, y) {
  return txt(text, x, y, 31, { style: { align: 'center' }, el: { rotation: Math.PI / 2 } });
}

const graphics = [
  { type: 'rect', silent: true, z: 30, shape: { x: 10, y: 5, width: 1388, height: 1010 },
    style: { fill: 'none', stroke: '#ff5a1e', lineWidth: 3 } },

  box(226, 135, 332, 30), txt('wind direction portacabin', 399, 151, 24, { style: { align: 'center' } }),
  box(642, 263, 265, 30), txt('wind direction ridge', 780, 280, 24, { style: { align: 'center' } }),

  box(235, 313, 80, 48), txt('CO', 245, 336, 30), txt('2', 292, 346, 30),
  box(236, 438, 76, 48), txt('N', 245, 460, 30), txt('2', 267, 469, 30), txt('O', 285, 460, 30),
  box(234, 563, 78, 47), txt('CH', 245, 584, 30), txt('4', 290, 593, 30),
  box(233, 681, 61, 40), txt('CO', 243, 702, 30),

  vTitle('deg', 94, 111),
  vTitle('deg', 1382, 231),
  vTitle('X (ppm)', 93, 372),
  vTitle('X (ppb)', 1379, 472),
  vTitle('X (ppm)', 93, 600),
  vTitle('X (ppb)', 1379, 741)
];

// slanted break marks across the CH4 axis lines, centred in the gap between the two CH4 grids
const breakY = (panels[4].top + panels[4].height + panels[5].top) / 2;
[PLOT_LEFT, PLOT_LEFT + PLOT_WIDTH].forEach(ax => {
  graphics.push({
    type: 'line', silent: true, z: 25,
    shape: { x1: ax - 15, y1: breakY + 2.2, x2: ax + 15, y2: breakY - 2.2 },
    style: { stroke: BLACK, lineWidth: 3.5 }
  });
});

const chart = echarts.init(document.getElementById('chart'), null, { renderer: 'canvas' });
chart.setOption({
  backgroundColor: '#ffffff',
  animation: false,
  grid: grids,
  xAxis: xAxes,
  yAxis: yAxes,
  series: series,
  graphic: graphics
});
</script>
</body>
</html>
